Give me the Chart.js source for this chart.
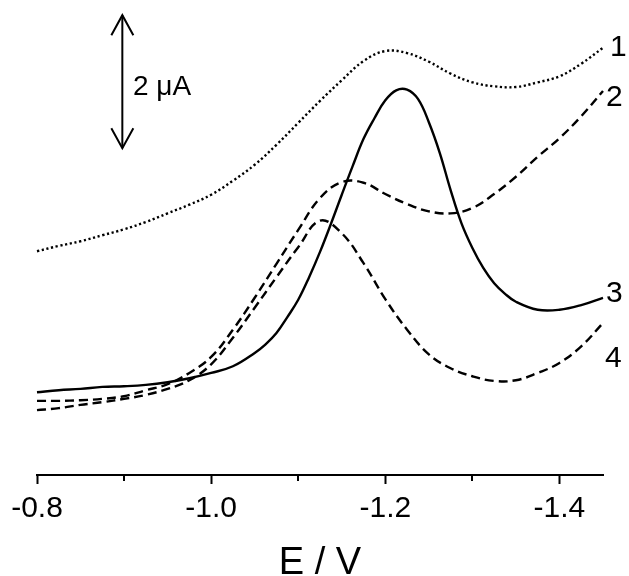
<!DOCTYPE html>
<html><head><meta charset="utf-8">
<script src="https://cdn.jsdelivr.net/npm/chart.js@4.4.1/dist/chart.umd.min.js"></script>
<style>html,body{margin:0;padding:0;background:#fff;}</style>
</head><body>
<canvas id="c" width="629" height="576"></canvas>
<script>
// Potential (V) grid
const potential = [-0.800,-0.825,-0.850,-0.875,-0.900,-0.925,-0.950,-0.975,-1.000,-1.025,-1.050,-1.075,-1.100,-1.125,-1.150,-1.175,-1.200,-1.225,-1.250,-1.275,-1.300,-1.325,-1.350,-1.375,-1.400,-1.425,-1.450];
// Currents (µA, offset curves)
const curve1 = [3.35,3.43,3.50,3.59,3.68,3.79,3.92,4.05,4.20,4.41,4.65,4.95,5.28,5.61,5.92,6.21,6.36,6.33,6.20,6.02,5.89,5.83,5.82,5.89,5.98,6.17,6.41];
const curve2 = [1.10,1.10,1.11,1.13,1.17,1.26,1.35,1.52,1.76,2.17,2.65,3.16,3.67,4.15,4.39,4.38,4.21,4.06,3.95,3.92,4.00,4.21,4.47,4.77,5.05,5.38,5.76];
const curve4 = [0.96,0.99,1.04,1.08,1.13,1.19,1.28,1.41,1.65,2.05,2.50,2.96,3.41,3.81,3.62,3.17,2.63,2.17,1.80,1.59,1.47,1.40,1.41,1.52,1.67,1.92,2.27];
const potential3 = [-0.800,-0.825,-0.850,-0.875,-0.900,-0.925,-0.950,-0.975,-1.000,-1.025,-1.050,-1.0625,-1.075,-1.0875,-1.100,-1.1125,-1.125,-1.1375,-1.150,-1.1625,-1.175,-1.1875,-1.200,-1.2125,-1.225,-1.2375,-1.250,-1.2625,-1.275,-1.2875,-1.300,-1.3125,-1.325,-1.3375,-1.350,-1.375,-1.400,-1.425,-1.450];
const curve3 = [1.23,1.26,1.28,1.31,1.32,1.34,1.38,1.44,1.52,1.62,1.82,1.95,2.12,2.36,2.62,2.96,3.34,3.76,4.20,4.63,5.04,5.35,5.62,5.77,5.78,5.64,5.29,4.83,4.27,3.77,3.40,3.10,2.87,2.71,2.59,2.47,2.47,2.54,2.65];
// Axis ticks
const majorTicks = [-0.8,-1.0,-1.2,-1.4];
const minorTicks = [-0.9,-1.1,-1.3];
const tickLabels = ['-0.8','-1.0','-1.2','-1.4'];
const curveLabels = ['1','2','3','4'];
const scaleBarValue = 2; // µA
const scaleBarText = '2 μA';

const FONT = '"Liberation Sans", Arial, Helvetica, sans-serif';
const pts = (xs, ys) => xs.map((x, i) => ({x: x, y: ys[i]}));

const annot = {
  id: 'annot',
  afterDraw(chart) {
    const ctx = chart.ctx, x = chart.scales.x, y = chart.scales.y;
    ctx.save();
    ctx.strokeStyle = '#000';
    ctx.fillStyle = '#000';
    ctx.lineWidth = 2;
    // minor ticks
    const ya = x.top;
    minorTicks.forEach(v => {
      const px = Math.round(x.getPixelForValue(v));
      ctx.beginPath(); ctx.moveTo(px, ya); ctx.lineTo(px, ya + 6); ctx.stroke();
    });
    // scale bar (double arrow)
    const ax = x.getPixelForValue(-0.898) ;
    const t = y.getPixelForValue(6.90), b = y.getPixelForValue(6.90 - scaleBarValue);
    ctx.beginPath(); ctx.moveTo(ax, t); ctx.lineTo(ax, b); ctx.stroke();
    ctx.beginPath(); ctx.moveTo(ax - 11, t + 20); ctx.lineTo(ax, t); ctx.lineTo(ax + 11, t + 20); ctx.stroke();
    ctx.beginPath(); ctx.moveTo(ax - 11, b - 20); ctx.lineTo(ax, b); ctx.lineTo(ax + 11, b - 20); ctx.stroke();
    ctx.font = '28px ' + FONT;
    ctx.textAlign = 'left';
    ctx.textBaseline = 'alphabetic';
    ctx.fillText(scaleBarText, 133, 95);
    // curve labels
    ctx.font = '30px ' + FONT;
    ctx.fillText(curveLabels[0], 610, 56);
    ctx.fillText(curveLabels[1], 606, 106);
    ctx.fillText(curveLabels[2], 606, 302);
    ctx.fillText(curveLabels[3], 605, 367);
    ctx.restore();
  }
};

const common = {borderColor: '#000', borderWidth: 2.4, pointRadius: 0, fill: false, tension: 0.4, clip: 10};

new Chart(document.getElementById('c').getContext('2d'), {
  type: 'line',
  data: {
    datasets: [
      Object.assign({label: curveLabels[0], data: pts(potential, curve1), borderDash: [2.2, 2.6]}, common),
      Object.assign({label: curveLabels[1], data: pts(potential, curve2), borderDash: [9, 5]}, common),
      Object.assign({label: curveLabels[2], data: pts(potential3, curve3)}, common),
      Object.assign({label: curveLabels[3], data: pts(potential, curve4), borderDash: [9, 5]}, common)
    ]
  },
  options: {
    responsive: false,
    animation: false,
    devicePixelRatio: 1,
    layout: {padding: {left: 37, right: 26, top: 0, bottom: 0}},
    plugins: {legend: {display: false}, tooltip: {enabled: false}},
    scales: {
      x: {
        type: 'linear', min: -1.45, max: -0.8, reverse: true,
        afterBuildTicks: s => { s.ticks = majorTicks.map(v => ({value: v})); },
        afterFit: s => { s.height = 101; },
        ticks: {
          callback: (v) => { const i = majorTicks.findIndex(t => Math.abs(t - v) < 1e-9); return i >= 0 ? tickLabels[i] : ''; },
          color: '#000', font: {family: FONT, size: 30, lineHeight: 1.2}, padding: 7, maxRotation: 0, autoSkip: false
        },
        grid: {drawOnChartArea: false, drawTicks: true, tickLength: 9, color: '#000', tickWidth: 2},
        border: {display: true, color: '#000', width: 2},
        title: {display: true, text: 'E / V', color: '#000', font: {family: FONT, size: 38, lineHeight: 0.65}, padding: 0}
      },
      y: {type: 'linear', display: false, min: -0.015, max: 7.128}
    }
  },
  plugins: [annot]
});
</script>
</body></html>
